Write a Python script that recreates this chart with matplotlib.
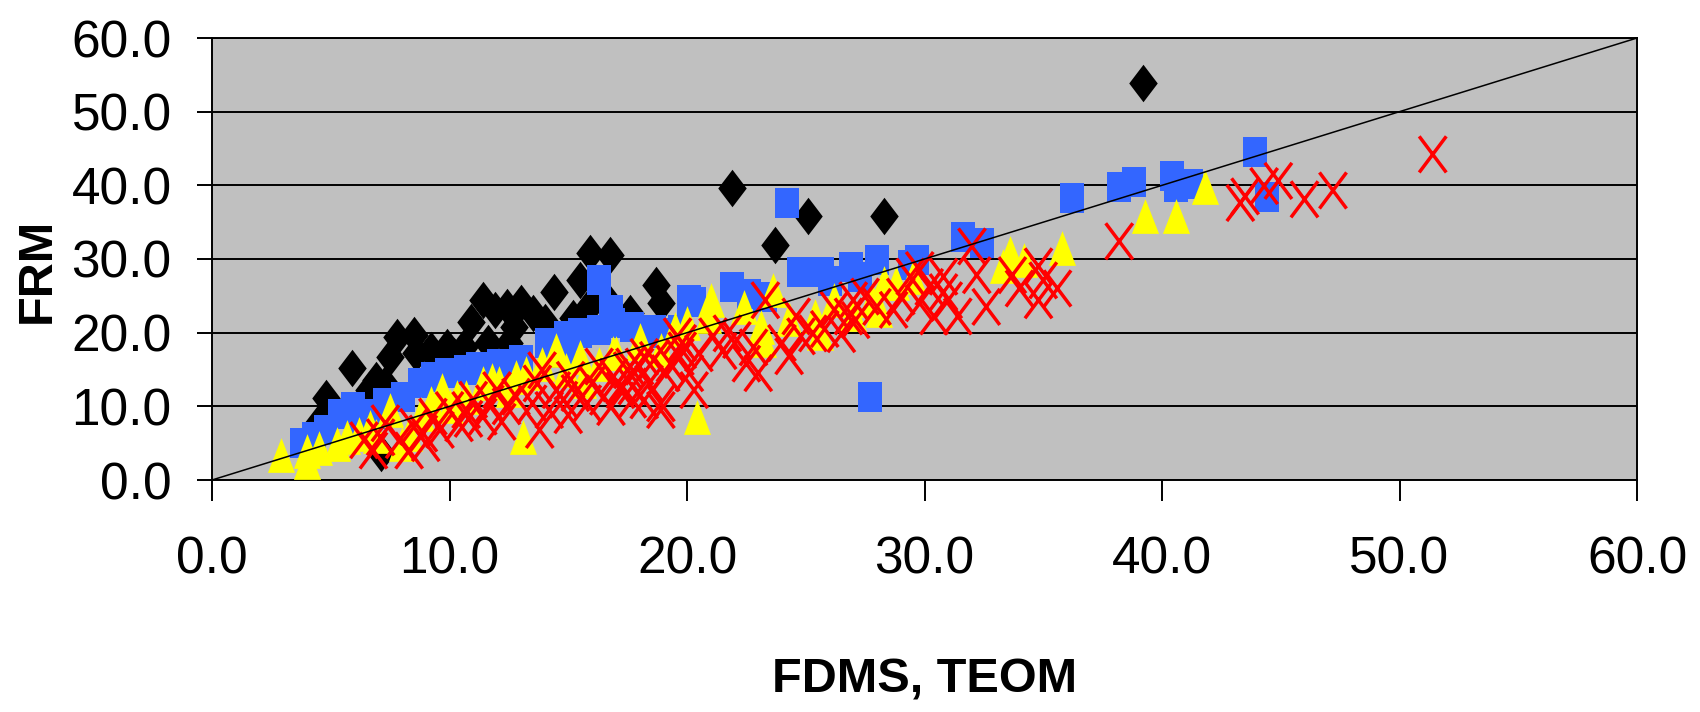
import matplotlib
matplotlib.use("Agg")
import matplotlib.pyplot as plt
from matplotlib.path import Path

# ---- data (FDMS/TEOM on x, FRM on y) ----
black_x = [39.2, 21.9, 25.1, 28.3, 23.7, 15.9, 16.75, 15.5, 14.4, 18.7, 18.9, 15.9, 11.4, 11.9,
           13.0, 12.4, 13.5, 15.2, 10.9, 12.7, 17.6, 11.6, 12.5, 7.8, 8.5, 7.5, 9.2, 9.9, 10.6,
           8.6, 5.9, 6.9, 6.6, 4.8, 4.5, 7.1, 7.3, 14.0, 16.5, 6.5, 9.5, 10.2]
black_y = [53.9, 39.7, 35.9, 35.9, 31.9, 30.8, 30.6, 27.1, 25.5, 26.5, 24.0, 23.7, 24.4, 23.1,
           24.0, 23.5, 22.7, 22.0, 21.4, 20.8, 22.7, 18.6, 18.6, 19.4, 19.7, 16.7, 17.6, 18.1, 18.1,
           17.2, 15.2, 13.6, 12.2, 11.1, 7.9, 3.7, 13.0, 21.5, 25.0, 9.5, 16.2, 16.8]

blue_x = [43.9, 44.4, 40.4, 40.6, 41.2, 38.8, 38.2, 36.2, 31.6, 32.4, 29.7, 28.0, 26.9, 25.7,
          24.7, 24.2, 27.7, 21.9, 20.3, 16.3, 16.8, 16.9, 17.7, 18.6, 18.9, 19.7, 20.1, 16.3,
          15.5, 14.9, 14.1, 14.8, 13.0, 12.1, 12.8, 10.7, 9.9, 9.3, 8.75, 8.05, 7.3, 6.8, 5.95,
          5.4, 4.8, 4.3, 3.8, 22.6, 23.3, 26.0, 27.3, 29.4, 11.2, 6.3]
blue_y = [44.5, 38.4, 41.3, 39.8, 40.2, 40.4, 39.8, 38.3, 33.0, 32.2, 29.9, 29.9, 28.9, 28.3,
          28.3, 37.6, 11.3, 26.2, 24.2, 27.2, 23.1, 21.3, 20.8, 20.4, 19.9, 20.4, 24.4, 20.4,
          19.9, 19.5, 18.6, 17.2, 16.3, 15.8, 14.9, 14.9, 14.5, 14.0, 13.1, 11.3, 10.4, 9.0, 9.9,
          9.0, 6.8, 5.8, 5.0, 25.2, 24.9, 27.0, 27.5, 29.2, 15.3, 8.3]

yellow_x = [2.9, 4.0, 4.0, 4.5, 5.25, 5.7, 6.2, 6.65, 7.5, 8.0, 8.3, 8.8, 9.2, 9.7, 10.3, 10.7,
            11.4, 11.8, 12.1, 12.8, 13.2, 13.1, 13.9, 14.5, 14.9, 15.5, 16.3, 17.0, 18.0, 18.9,
            20.0, 20.4, 21.0, 22.4, 23.1, 23.2, 23.6, 25.4, 25.6, 26.2, 27.0, 27.8, 28.3, 28.8,
            28.1, 18.0, 16.9, 33.3, 33.6, 34.2, 35.8, 39.3, 40.6, 41.8, 20.9, 19.5, 24.3, 29.5,
            10.0, 6.9, 12.5, 15.6]
yellow_y = [3.4, 2.5, 4.0, 4.3, 4.9, 5.8, 6.3, 7.2, 9.5, 4.9, 6.3, 9.0, 10.4, 12.2, 11.3, 11.3,
            13.1, 13.6, 13.1, 14.0, 14.5, 5.8, 15.8, 17.6, 14.9, 16.7, 15.8, 17.2, 18.6, 17.6,
            21.3, 8.6, 24.4, 23.5, 20.8, 19.0, 25.8, 22.2, 19.9, 24.4, 22.6, 24.4, 26.7, 26.7,
            23.1, 19.0, 17.2, 29.0, 30.8, 29.9, 31.5, 35.8, 35.8, 39.8, 22.2, 20.5, 21.8, 27.5,
            10.0, 6.0, 12.2, 13.5]

red_x = [6.4, 7.1, 6.8, 7.3, 7.9, 8.3, 8.5, 8.9, 9.3, 9.6, 10.0, 10.4, 10.7, 11.0, 11.4, 11.7,
         12.0, 12.4, 12.8, 13.5, 13.7, 13.9, 13.8, 14.2, 14.5, 14.8, 15.1, 15.3, 15.8, 16.0,
         16.3, 16.5, 16.9, 17.2, 17.6, 17.7, 18.2, 18.4, 18.9, 19.3, 19.6, 19.8, 20.1, 20.3,
         23.3, 24.6, 24.8, 24.0, 23.0, 25.3, 26.2, 26.8, 27.0, 27.1, 27.5, 28.0, 28.7, 29.0,
         29.4, 29.8, 30.2, 30.4, 30.8, 31.0, 31.4, 32.0, 32.2, 32.6, 33.7, 34.0, 34.8, 34.8,
         35.6, 35.0, 22.5, 22.1, 21.7, 21.1, 20.5, 19.8, 19.7, 19.1, 18.6, 18.0, 17.5, 17.2,
         16.8, 18.2, 18.9, 17.7, 38.2, 43.3, 43.5, 44.3, 44.9, 46.0, 47.2, 51.4, 21.5, 22.8,
         25.8, 26.5, 29.8, 30.8, 9.0, 10.8, 12.2, 15.0, 24.3]
red_y = [5.4, 5.8, 4.0, 7.7, 5.4, 4.0, 7.2, 6.3, 8.6, 6.8, 9.5, 7.7, 9.5, 10.9, 8.6, 10.4,
         12.2, 10.0, 11.3, 10.4, 13.1, 14.9, 6.8, 9.5, 12.2, 10.9, 13.6, 11.8, 10.4, 13.1,
         15.4, 11.3, 14.0, 12.7, 15.4, 10.9, 16.7, 13.1, 10.4, 15.8, 19.5, 17.6, 14.5, 12.2,
         24.4, 22.2, 19.5, 18.6, 14.5, 19.9, 23.1, 22.2, 24.4, 21.7, 24.9, 23.5, 23.1, 24.9,
         27.6, 28.5, 26.2, 22.2, 27.6, 24.4, 22.2, 31.7, 27.8, 23.5, 27.8, 26.0, 29.0, 24.4,
         26.0, 27.1, 15.8, 19.0, 19.9, 19.5, 17.2, 18.6, 16.7, 14.5, 16.3, 15.4, 14.9, 12.2,
         9.9, 10.8, 9.5, 12.7, 32.4, 37.6, 38.5, 39.9, 40.6, 38.1, 39.3, 44.2, 17.5, 18.0,
         20.5, 19.8, 24.0, 25.5, 5.0, 8.3, 7.9, 8.8, 16.8]

ref_line = [0, 60]
ticks = [0, 10, 20, 30, 40, 50, 60]

fam = "Liberation Sans"

# markers are a bit taller than wide in the original
diamond = Path([(0, 1), (0.76, 0), (0, -1), (-0.76, 0), (0, 1)], closed=True)
square = Path([(-0.78, -1), (0.78, -1), (0.78, 1), (-0.78, 1), (-0.78, -1)], closed=True)
triangle = Path([(0, 1), (0.78, -1), (-0.78, -1), (0, 1)], closed=True)
cross = Path([(-0.75, -1), (0.75, 1), (-0.75, 1), (0.75, -1)],
             [Path.MOVETO, Path.LINETO, Path.MOVETO, Path.LINETO])

fig = plt.figure(figsize=(17, 7.12), dpi=100)
ax = fig.add_axes([212 / 1700, 1 - 480 / 712, 1425 / 1700, 442 / 712])
ax.set_facecolor("#C0C0C0")

ax.scatter(black_x, black_y, marker=diamond, s=27 ** 2, color="black", linewidths=0, zorder=2)
ax.scatter(blue_x, blue_y, marker=square, s=22 ** 2, color="#3366FF", linewidths=0, zorder=3)
ax.scatter(yellow_x, yellow_y, marker=triangle, s=25 ** 2, color="#FFFF00", linewidths=0, zorder=4)
ax.scatter(red_x, red_y, marker=cross, s=26 ** 2, facecolors="none", edgecolors="#FF0000",
           linewidths=2.5, zorder=5)

# 1:1 line, runs a hair past the plot corners like the original
ax.plot(ref_line, ref_line, color="black", lw=1.1, zorder=6, clip_on=False)

ax.set_xlim(0, 60)
ax.set_ylim(0, 60)
ax.set_xticks(ticks)
ax.set_yticks(ticks)
ax.set_xticklabels([f"{t:.1f}" for t in ticks])
ax.set_yticklabels([f"{t:.1f}" for t in ticks])
ax.grid(axis="y", color="black", lw=1.4, zorder=1)
ax.set_axisbelow(True)
for sp in ax.spines.values():
    sp.set_color("black")
    sp.set_linewidth(1.4)

ax.tick_params(axis="x", length=15, width=1.4, pad=25)
ax.tick_params(axis="y", length=11, width=1.4, pad=18)
for lab in ax.get_xticklabels() + ax.get_yticklabels():
    lab.set_family(fam)
    lab.set_fontsize(37)

fig.text(925 / 1700, 1 - 680 / 712, "FDMS, TEOM", family=fam, weight="bold", fontsize=35,
         ha="center", va="center")
fig.text(37 / 1700, 1 - 270 / 712, "FRM", family=fam, weight="bold", fontsize=35,
         rotation=90, ha="center", va="center")

fig.savefig("out.png", dpi=100)
